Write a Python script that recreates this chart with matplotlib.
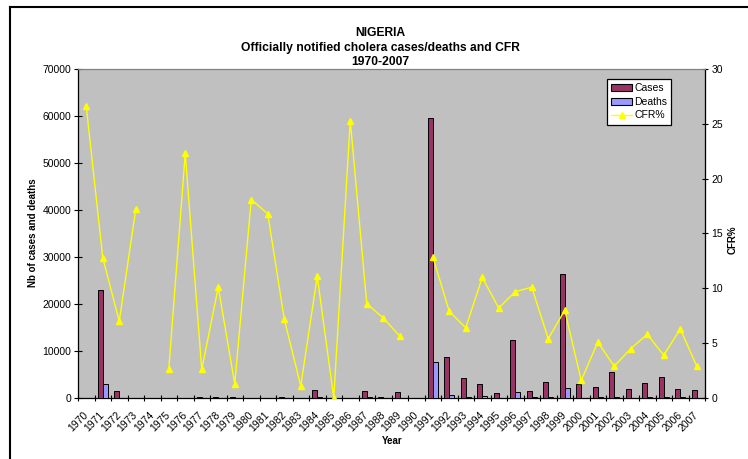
import numpy as np
import matplotlib
matplotlib.use("Agg")
import matplotlib.pyplot as plt
from matplotlib.lines import Line2D
from matplotlib.patches import Patch

plt.rcParams['font.family'] = ['Liberation Sans', 'DejaVu Sans']

years = [str(y) for y in range(1970, 2008)]
cases = [60, 23000, 1400, 80, 0, 40, 45, 300, 120, 250, 60, 30, 250, 90, 1600, 10,
         30, 1400, 150, 1200, 0, 59500, 8800, 4200, 2900, 1100, 12300, 1400, 3500,
         26400, 2900, 2300, 5500, 2000, 3200, 4500, 2000, 1700]
deaths = [16, 2950, 98, 14, 0, 1, 10, 8, 12, 3, 11, 5, 18, 1, 178, 0,
          8, 120, 11, 68, 0, 7650, 700, 270, 320, 90, 1200, 140, 190,
          2100, 46, 117, 160, 90, 186, 175, 126, 49]
cfr = [26.6, 12.8, 7.0, 17.2, np.nan, 2.6, 22.3, 2.6, 10.1, 1.3, 18.1, 16.8, 7.2, 1.1,
       11.1, 0.0, 25.3, 8.6, 7.3, 5.65, np.nan, 12.9, 7.9, 6.4, 11.0, 8.2, 9.7, 10.1,
       5.4, 8.0, 1.6, 5.1, 2.9, 4.5, 5.8, 3.9, 6.3, 2.9]

W, H = 748, 459
fig = plt.figure(figsize=(W / 100, H / 100), dpi=100)
fig.patch.set_facecolor('white')
L, R, T, B = 78, 705, 69, 398
ax = fig.add_axes([L / W, 1 - B / H, (R - L) / W, (B - T) / H])
ax.set_facecolor('#C0C0C0')

x = np.arange(len(years))
bw = 0.3
ax.bar(x - bw / 2, cases, width=bw, color='#993366', edgecolor='black', linewidth=0.7, zorder=3)
ax.bar(x + bw / 2, deaths, width=bw, color='#9999FF', edgecolor='black', linewidth=0.7, zorder=3)
ax.set_xlim(-0.5, len(years) - 0.5)
ax.set_ylim(0, 70000)
ax.set_yticks(np.arange(0, 70001, 10000))
ax.tick_params(axis='y', labelsize=7.5, length=6, direction='inout', width=0.8, pad=2)

ax.set_xticks(x)
ax.set_xticklabels(years, rotation=45, ha='right', va='center', rotation_mode='anchor', fontsize=7.5)
ax.set_xticks(np.arange(-0.5, len(years), 1), minor=True)
ax.tick_params(axis='x', which='major', length=0, pad=11)
ax.tick_params(axis='x', which='minor', length=5, direction='inout', width=0.8)

for s in ['left', 'bottom']:
    ax.spines[s].set_color('black')
    ax.spines[s].set_linewidth(0.9)
ax.spines['top'].set_color('#808080')
ax.spines['right'].set_color('#808080')

ax2 = ax.twinx()
ax2.plot(x, cfr, color='#FFFF00', linewidth=1, marker='^', markersize=5,
         markerfacecolor='#FFFF00', markeredgecolor='#FFFF00', zorder=4)
ax2.set_ylim(0, 30)
ax2.set_yticks(np.arange(0, 31, 5))
ax2.tick_params(axis='y', labelsize=7.5, length=5, direction='inout', width=0.8, pad=2)
ax2.spines['right'].set_color('black')
ax2.spines['right'].set_linewidth(0.9)
ax2.spines['top'].set_color('#808080')
ax2.spines['left'].set_visible(False)
ax2.spines['bottom'].set_visible(False)

handles = [Patch(facecolor='#993366', edgecolor='black', linewidth=0.8),
           Patch(facecolor='#9999FF', edgecolor='black', linewidth=0.8),
           Line2D([], [], color='#FFFF00', linewidth=1, marker='^', markersize=5,
                  markerfacecolor='#FFFF00', markeredgecolor='#FFFF00')]
leg = ax2.legend(handles, ['Cases', 'Deaths', 'CFR%'], loc='upper left',
                 bbox_to_anchor=((607 - L) / (R - L), (B - 79) / (B - T)),
                 borderaxespad=0, fontsize=7.5, fancybox=False, framealpha=1,
                 edgecolor='black', handlelength=2.0, handleheight=0.7,
                 borderpad=0.4, labelspacing=0.35, handletextpad=0.2)
leg.get_frame().set_linewidth(0.9)

tx = 380 / W
fig.text(tx, 1 - 33 / H, 'NIGERIA', ha='center', va='center', fontsize=8.7, fontweight='bold')
fig.text(tx, 1 - 48 / H, 'Officially notified cholera cases/deaths and CFR', ha='center',
         va='center', fontsize=8.7, fontweight='bold')
fig.text(tx, 1 - 62 / H, '1970-2007', ha='center', va='center', fontsize=8.7, fontweight='bold')
fig.text(33 / W, 1 - 233 / H, 'Nb of cases and deaths', rotation=90, ha='center', va='center',
         fontsize=7, fontweight='bold')
fig.text(733 / W, 1 - 240 / H, 'CFR%', rotation=90, ha='center', va='center',
         fontsize=7, fontweight='bold')
fig.text(392 / W, 1 - 441 / H, 'Year', ha='center', va='center', fontsize=7, fontweight='bold')

fig.add_artist(Line2D([10 / W, 10 / W], [0, 1 - 7 / H], color='black', linewidth=1.5,
                      transform=fig.transFigure))
fig.add_artist(Line2D([10 / W, 1], [1 - 7 / H, 1 - 7 / H], color='black', linewidth=1.5,
                      transform=fig.transFigure))

fig.savefig('out.png', dpi=100)
